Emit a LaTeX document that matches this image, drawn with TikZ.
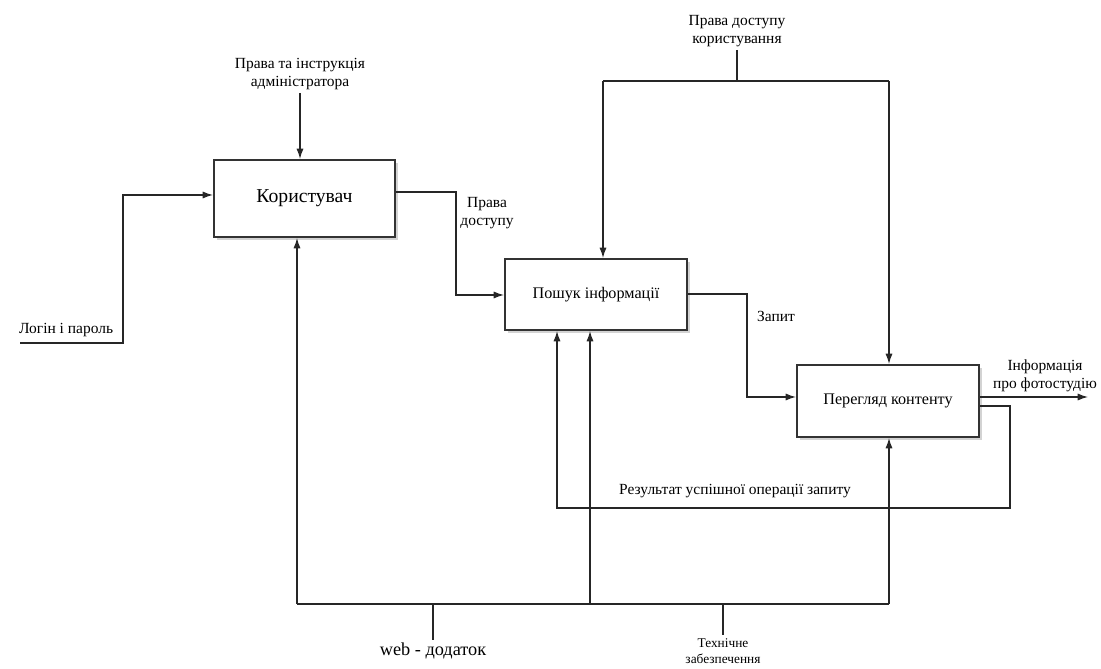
\documentclass[tikz,border=0pt]{standalone}
\usepackage{fontspec}
\setmainfont{Liberation Serif}
\usetikzlibrary{arrows.meta,shadows}

\tikzset{
  func/.style={draw=black!80, line width=1.4pt, fill=white, align=center,
    drop shadow={shadow xshift=2pt, shadow yshift=-2pt, opacity=0.35},
    font=\fontsize{11.5}{13}\selectfont},
  lbl/.style={font=\fontsize{11}{12.8}\selectfont, align=center, inner sep=2pt},
  conn/.style={line width=0.9pt, draw=black!85}
}

\begin{document}
\begin{tikzpicture}[x=0.025cm, y=-0.025cm, >={Latex[length=2.6mm,width=1.8mm]}, line join=miter]
\useasboundingbox (0,0) rectangle (1101,669);

% functions
\node[func, minimum width=4.525cm, minimum height=1.925cm, font=\fontsize{14}{16}\selectfont] (user) at (304.5,198.5) {Користувач};
\node[func, minimum width=4.55cm, minimum height=1.775cm] (search) at (596,294.5) {Пошук інформації};
\node[func, minimum width=4.55cm, minimum height=1.8cm] (view) at (888,401) {Перегляд контенту};

% labels
\node[lbl] (admin) at (300,74) {Права та інструкція\\адміністратора};
\node[lbl, anchor=south west] (login) at (16,340) {Логін і пароль};
\node[lbl] (access) at (487,213) {Права\\доступу};
\node[lbl] (rights) at (737,31) {Права доступу\\користування};
\node[lbl] (query) at (776,316) {Запит};
\node[lbl] (info) at (1045,376) {Інформація\\про фотостудію};
\node[lbl] (result) at (735,491) {Результат успішної операції запиту};
\node[lbl, font=\fontsize{13}{15}\selectfont] (web) at (433,651) {web - додаток};
\node[lbl, font=\fontsize{9.5}{11.5}\selectfont] (tech) at (723,651) {Технічне\\забезпечення};

% bend points
\coordinate (lg) at (20,343);
\coordinate (in1) at (123,195);
\coordinate (b1) at (456,192);
\coordinate (b1d) at (456,295);
\coordinate (b2) at (747,294);
\coordinate (b2d) at (747,397);
\coordinate (c2) at (737,81);
\coordinate (c2l) at (603,81);
\coordinate (c2r) at (889,81);
\coordinate (out) at (1088,397);
\coordinate (fb1) at (1010,406);
\coordinate (fb2) at (557,508);
\coordinate (m1) at (297,604);
\coordinate (m2) at (590,604);
\coordinate (m3) at (889,604);
\coordinate (w) at (433,604);
\coordinate (t) at (723,604);

% control
\draw[conn, ->] (admin.south) -- (admin.south |- user.north);
\draw[conn] (rights.south) -- (c2);
\draw[conn] (c2l) -- (c2r);
\draw[conn, ->] (c2l) -- (c2l |- search.north);
\draw[conn, ->] (c2r) -- (c2r |- view.north);

% input and flows
\draw[conn, ->] (lg) -| (in1) -- (in1 -| user.west);
\draw[conn, ->] (b1 -| user.east) -- (b1) -- (b1d) -- (b1d -| search.west);
\draw[conn, ->] (b2 -| search.east) -- (b2) -- (b2d) -- (b2d -| view.west);
\draw[conn, ->] (view.east |- out) -- (out);
\draw[conn, ->] (view.east |- fb1) -- (fb1) |- (fb2) -- (fb2 |- search.south);

% mechanisms
\draw[conn] (m1) -- (m3);
\draw[conn, ->] (m1) -- (m1 |- user.south);
\draw[conn, ->] (m2) -- (m2 |- search.south);
\draw[conn, ->] (m3) -- (m3 |- view.south);
\draw[conn] (w) -- (web.north);
\draw[conn] (t) -- (tech.north);
\end{tikzpicture}
\end{document}
